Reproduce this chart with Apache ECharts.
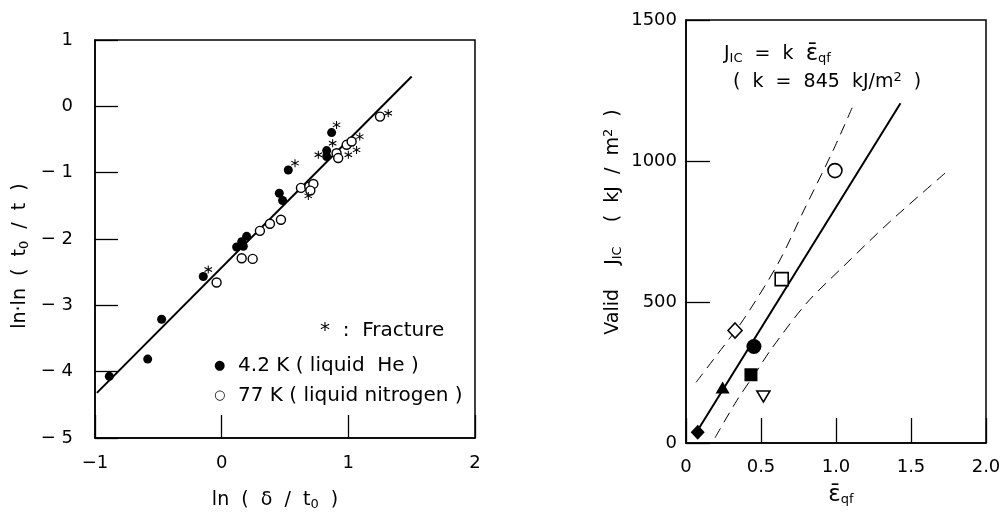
<!DOCTYPE html>
<html>
<head>
<meta charset="utf-8">
<script src="https://cdn.jsdelivr.net/npm/echarts@6/dist/echarts.min.js"></script>
<style>
html,body{margin:0;padding:0;background:#fff;}
#c{width:1005px;height:516px;}
</style>
</head>
<body>
<div id="c"></div>
<script>
// ---------- Left panel data: ln(delta/t0) vs ln.ln(t0/t) ----------
const heX = [-0.887, -0.584, -0.474, -0.145, 0.118, 0.158, 0.171, 0.197, 0.455, 0.481, 0.526, 0.829, 0.829, 0.868];
const heY = [-4.07, -3.81, -3.21, -2.565, -2.12, -2.04, -2.11, -1.96, -1.31, -1.42, -0.96, -0.667, -0.757, -0.396];
const n2X = [-0.04, 0.158, 0.245, 0.302, 0.381, 0.468, 0.626, 0.692, 0.724, 0.70, 0.907, 0.92, 0.987, 1.026, 1.25];
const n2Y = [-2.655, -2.29, -2.30, -1.877, -1.77, -1.71, -1.23, -1.21, -1.17, -1.27, -0.707, -0.78, -0.58, -0.53, -0.155];
const fracX = [1.315, 0.907, 0.876, 0.763, 1.09, 1.065, 1.0, 0.579, 0.684, -0.106];
const fracY = [-0.104, -0.28, -0.556, -0.73, -0.456, -0.657, -0.73, -0.857, -1.35, -2.46];
const leftFitX = [-0.985, 1.5];
const leftFitY = [-4.32, 0.45];

// ---------- Right panel data: eps_qf vs valid J_IC ----------
const rNames = ['openCircle', 'openSquare', 'openDiamond', 'fillCircle', 'fillSquare', 'fillTriangle', 'openInvTriangle', 'fillDiamond'];
const rX = [0.993, 0.638, 0.327, 0.453, 0.433, 0.244, 0.516, 0.078];
const rY = [966, 581, 399, 342, 242, 197, 165, 38];
const rightFitX = [0.07, 1.43];
const rightFitY = [38, 1205];
const upperBandX = [0.067, 0.20, 0.382, 0.615, 0.793, 0.982, 1.111];
const upperBandY = [215, 308, 437, 638, 833, 1039, 1193];
const lowerBandX = [0.193, 0.338, 0.471, 0.571, 0.804, 1.049, 1.36, 1.738];
const lowerBandY = [18, 150, 255, 335, 496, 626, 785, 962];

const zip = (a, b) => a.map((v, i) => [v, b[i]]);
const FONT = 'DejaVu Sans';
const ASTER = 'path://M-0.6,-5L0.6,-5L0.6,5L-0.6,5Z M4.03,3.02L-4.63,-1.98L-4.03,-3.02L4.63,1.98Z M4.63,-1.98L-4.03,3.02L-4.63,1.98L4.03,-3.02Z';

const rSym = {
  openCircle: {symbol: 'circle', size: 14, fill: '#fff'},
  openSquare: {symbol: 'rect', size: 13, fill: '#fff'},
  openDiamond: {symbol: 'diamond', size: [14, 15], fill: '#fff'},
  fillCircle: {symbol: 'circle', size: 15, fill: '#000'},
  fillSquare: {symbol: 'rect', size: 13, fill: '#000'},
  fillTriangle: {symbol: 'triangle', size: [14, 12], fill: '#000'},
  openInvTriangle: {symbol: 'triangle', size: [13, 11], fill: '#fff', rotate: 180},
  fillDiamond: {symbol: 'diamond', size: [14, 15], fill: '#000'}
};

const axisCommon = {
  axisLine: {show: true, onZero: false, lineStyle: {color: '#000', width: 1.5}},
  axisTick: {show: true, inside: true, length: 23, lineStyle: {color: '#000', width: 1.3}},
  splitLine: {show: false},
  axisLabel: {color: '#000', fontFamily: FONT, fontSize: 18}
};

const series = [];
series.push({
  type: 'line', xAxisIndex: 0, yAxisIndex: 0, data: zip(leftFitX, leftFitY),
  symbol: 'none', lineStyle: {color: '#000', width: 2}, z: 1, silent: true
});
series.push({
  type: 'scatter', xAxisIndex: 0, yAxisIndex: 0, data: zip(n2X, n2Y),
  symbol: 'circle', symbolSize: 9,
  itemStyle: {color: '#fff', borderColor: '#000', borderWidth: 1.4, opacity: 1}, z: 3
});
series.push({
  type: 'scatter', xAxisIndex: 0, yAxisIndex: 0, data: zip(heX, heY),
  symbol: 'circle', symbolSize: 9,
  itemStyle: {color: '#000', opacity: 1}, z: 4
});
series.push({
  type: 'scatter', xAxisIndex: 0, yAxisIndex: 0, data: zip(fracX, fracY),
  symbol: ASTER, symbolSize: [8, 8],
  itemStyle: {color: '#000', opacity: 1}, z: 5
});

// right panel
series.push({
  type: 'line', xAxisIndex: 1, yAxisIndex: 1, data: zip(rightFitX, rightFitY),
  symbol: 'none', lineStyle: {color: '#000', width: 2}, z: 1, silent: true
});
series.push({
  type: 'line', xAxisIndex: 1, yAxisIndex: 1, data: zip(upperBandX, upperBandY),
  symbol: 'none', smooth: 0.3, lineStyle: {color: '#000', width: 1, type: [11, 7]}, z: 1, silent: true
});
series.push({
  type: 'line', xAxisIndex: 1, yAxisIndex: 1, data: zip(lowerBandX, lowerBandY),
  symbol: 'none', smooth: 0.3, lineStyle: {color: '#000', width: 1, type: [11, 7]}, z: 1, silent: true
});
rNames.forEach((nm, i) => {
  const s = rSym[nm];
  series.push({
    type: 'scatter', xAxisIndex: 1, yAxisIndex: 1, name: nm,
    data: [[rX[i], rY[i]]],
    symbol: s.symbol, symbolSize: s.size, symbolRotate: s.rotate || 0,
    itemStyle: {color: s.fill, borderColor: '#000', borderWidth: s.fill === '#fff' ? 1.6 : 0, opacity: 1},
    z: 4
  });
});

function txt(text, x, y, opts) {
  opts = opts || {};
  const fs = opts.fontSize || 19;
  return {
    type: 'text', x: x, y: y, rotation: opts.rotation || 0, z: 10, silent: true,
    style: {
      text: text, fontSize: fs, fontFamily: FONT, fill: '#000',
      align: opts.align || 'center', verticalAlign: 'middle',
      rich: {
        m: {fontSize: fs, fontFamily: FONT, color: '#000'},
        e: {fontSize: fs + 4, fontFamily: FONT, color: '#000'},
        sm: {fontSize: 13, fontFamily: FONT, color: '#000'},
        s: {fontSize: 13, fontFamily: FONT, padding: [10, 0, 0, 0], color: '#000'},
        p: {fontSize: 13, fontFamily: FONT, padding: [0, 0, 9, 0], color: '#000'}
      }
    }
  };
}

const option = {
  animation: false,
  backgroundColor: '#fff',
  textStyle: {fontFamily: FONT},
  grid: [
    {left: 95, top: 40, width: 380, height: 398, show: true, borderColor: '#000', borderWidth: 1.5, backgroundColor: 'transparent'},
    {left: 686, top: 20, width: 300, height: 423, show: true, borderColor: '#000', borderWidth: 1.5, backgroundColor: 'transparent'}
  ],
  xAxis: [
    Object.assign({}, axisCommon, {
      gridIndex: 0, type: 'value', min: -1, max: 2, interval: 1,
      axisLabel: Object.assign({}, axisCommon.axisLabel, {margin: 16, formatter: v => v < 0 ? '−' + Math.abs(v) : String(v)})
    }),
    Object.assign({}, axisCommon, {
      gridIndex: 1, type: 'value', min: 0, max: 2, interval: 0.5,
      axisTick: Object.assign({}, axisCommon.axisTick, {length: 25}),
      axisLabel: Object.assign({}, axisCommon.axisLabel, {margin: 15, formatter: v => v === 0 ? '0' : v.toFixed(1)})
    })
  ],
  yAxis: [
    Object.assign({}, axisCommon, {
      gridIndex: 0, type: 'value', min: -5, max: 1, interval: 1,
      axisLabel: Object.assign({}, axisCommon.axisLabel, {margin: 22, formatter: v => v < 0 ? '− ' + Math.abs(v) : String(v)})
    }),
    Object.assign({}, axisCommon, {
      gridIndex: 1, type: 'value', min: 0, max: 1500, interval: 500,
      axisTick: Object.assign({}, axisCommon.axisTick, {length: 24}),
      axisLabel: Object.assign({}, axisCommon.axisLabel, {margin: 9, formatter: v => String(v)})
    })
  ],
  series: series,
  graphic: [
    txt('{m|ln·ln  (  t}{s|0}{m|  /  t  )}', 20, 256, {rotation: Math.PI / 2}),
    txt('{m|ln  (  δ  /  t}{s|0}{m|  )}', 275, 500),
    txt('{m|*  :  Fracture}', 320, 331, {align: 'left', fontSize: 20}),
    txt('{sm|●}{m|  4.2 K ( liquid  He )}', 214, 366, {align: 'left', fontSize: 20}),
    txt('{sm|○}{m|  77 K ( liquid nitrogen )}', 214, 396, {align: 'left', fontSize: 20}),
    txt('{m|Valid    J}{s|IC}{m|    (  kJ  /  m}{p|2}{m|  )}', 613, 222, {rotation: Math.PI / 2}),
    txt('{e|ε̄}{s|qf}', 841, 495),
    txt('{m|J}{s|IC}{m|  =  k  }{e|ε̄}{s|qf}', 724, 54, {align: 'left'}),
    txt('{m|(  k  =  845  kJ/m}{p|2}{m|  )}', 733, 82, {align: 'left'})
  ]
};

const chart = echarts.init(document.getElementById('c'), null, {renderer: 'canvas'});
chart.setOption(option);
</script>
</body>
</html>
